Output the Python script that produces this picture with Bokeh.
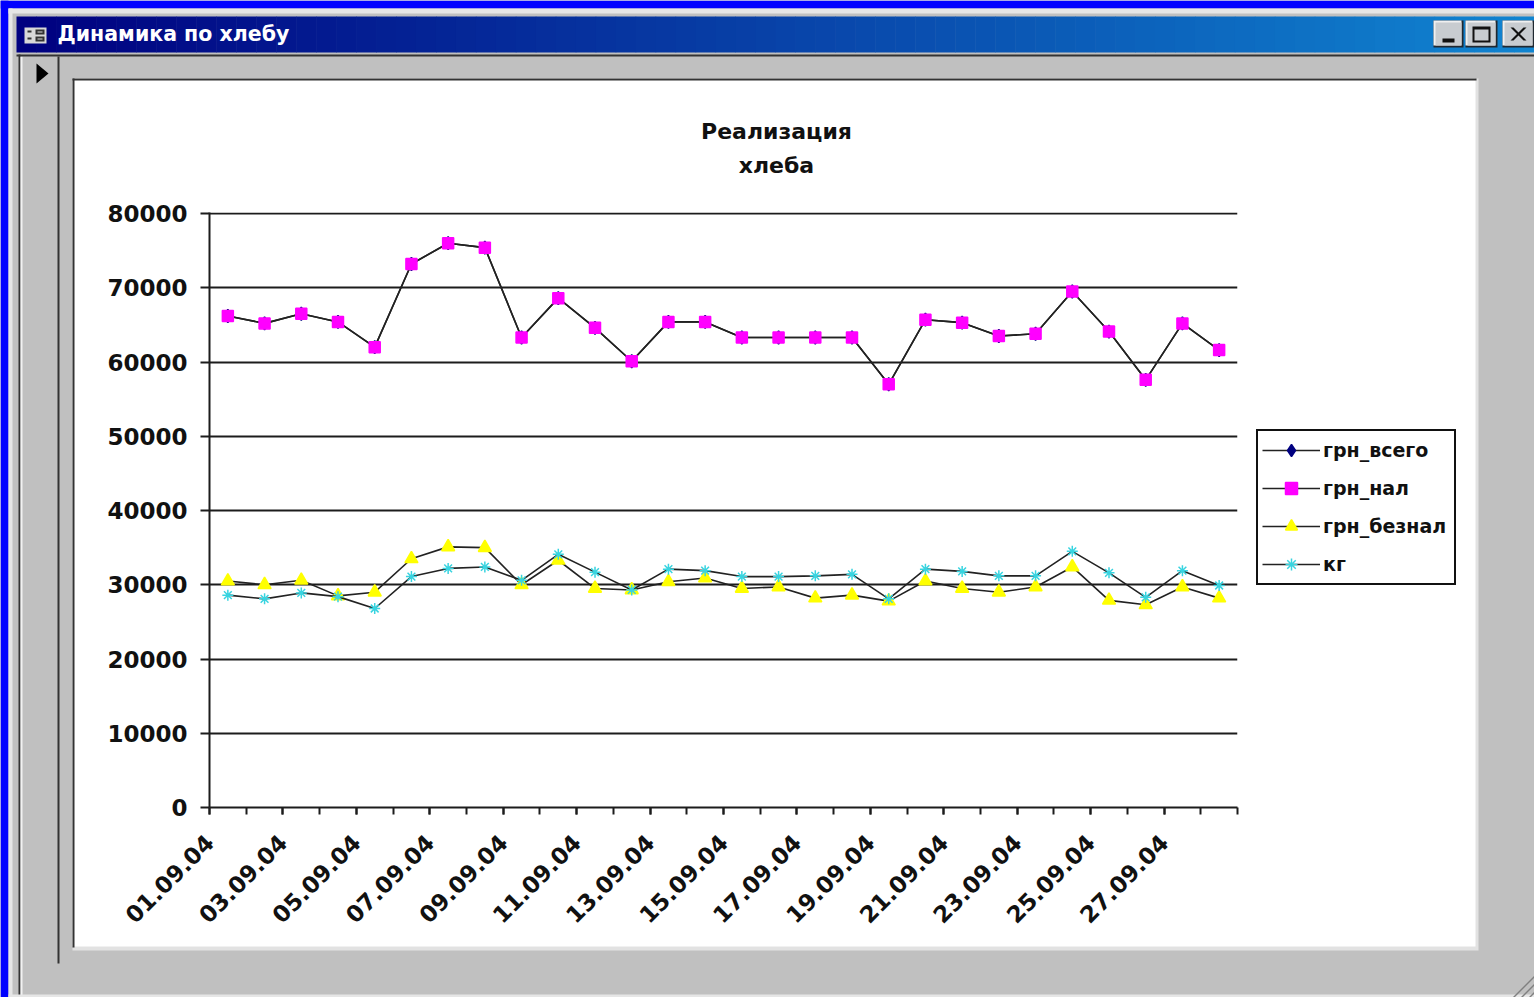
from bokeh.plotting import figure
from bokeh.models import (BoxAnnotation, PolyAnnotation, Label, Legend, LegendItem, Range1d,
                          FixedTicker, NumeralTickFormatter)
from bokeh.embed import file_html
from bokeh.resources import INLINE
from math import pi

# ---------- data ----------
dates = ["%02d.09.04" % d for d in range(1, 29)]
grn_vsego = [66200, 65200, 66500, 65400, 62000, 73200, 76000, 75400, 63300, 68600, 64600, 60100, 65400, 65400,
             63300, 63300, 63300, 63300, 57000, 65700, 65300, 63500, 63800, 69500, 64100, 57600, 65200, 61600]
grn_nal = [66200, 65200, 66500, 65400, 62000, 73200, 76000, 75400, 63300, 68600, 64600, 60100, 65400, 65400,
           63300, 63300, 63300, 63300, 57000, 65700, 65300, 63500, 63800, 69500, 64100, 57600, 65200, 61600]
grn_beznal = [30500, 30000, 30600, 28500, 29000, 33500, 35100, 35000, 30000, 33300, 29500, 29300, 30400, 30900,
              29500, 29700, 28200, 28600, 27800, 30500, 29500, 29000, 29700, 32400, 27900, 27300, 29700, 28200]
kg = [28600, 28100, 28900, 28400, 26800, 31100, 32200, 32400, 30600, 34100, 31700, 29300, 32100, 31900,
      31100, 31100, 31200, 31400, 28100, 32100, 31800, 31200, 31200, 34500, 31600, 28300, 31900, 29900]
y_ticks = [0, 10000, 20000, 30000, 40000, 50000, 60000, 70000, 80000]
title_lines = ["Реализация", "хлеба"]
window_title = "Динамика по хлебу"
series_names = ["грн_всего", "грн_нал", "грн_безнал", "кг"]

FONT = "DejaVu Sans"
INK = "#1c1c1c"
GRAY = "#c0c0c0"

positions = [i + 0.5 for i in range(len(dates))]

# window chrome: a figure whose frame is the whole canvas
bg = figure(width=1534, height=997, output_backend="svg", toolbar_location=None,
            x_range=Range1d(0, 1534), y_range=Range1d(997, 0),
            x_axis_location=None, y_axis_location=None, min_border=0,
            background_fill_color=GRAY, border_fill_color=GRAY, outline_line_color=None,
            styles={"position": "absolute", "left": "0px", "top": "0px"})
bg.grid.visible = False

# chart: transparent figure laid over it
p = figure(width=1534, height=997, output_backend="svg", toolbar_location=None,
           frame_width=1028, frame_height=595,
           x_range=Range1d(0, len(dates)), y_range=Range1d(0, 80135),
           min_border_left=209, min_border_right=0, min_border_top=212, min_border_bottom=190,
           background_fill_color=None, border_fill_color=None, outline_line_color=None,
           styles={"position": "absolute", "left": "0px", "top": "0px"})


def box(l, t, r, b, color):
    bg.add_layout(BoxAnnotation(left=l, right=r, top=t, bottom=b,
                                left_units="canvas", right_units="canvas",
                                top_units="canvas", bottom_units="canvas",
                                fill_color=color, fill_alpha=1, line_color=None, level="underlay"))


def poly(xs, ys, color):
    bg.add_layout(PolyAnnotation(xs=xs, ys=ys, xs_units="canvas", ys_units="canvas",
                                 fill_color=color, fill_alpha=1, line_color=None, level="underlay"))


box(0, 0, 1534, 8, "#0000ff")
box(0, 0, 8, 997, "#0000ff")
box(8, 8, 1534, 13, "#e6e6e6")
box(8, 8, 12, 997, "#e6e6e6")
box(18, 54, 20, 997, "#333333")
box(20, 56, 22, 997, "#f2f2f2")
box(8, 994, 1534, 997, "#e6e6e6")

# title bar gradient
steps = 76
x0, x1 = 16, 1534
c0, c1 = (0, 0, 128), (16, 132, 208)
for i in range(steps):
    t = i / (steps - 1)
    col = tuple(round(a + (b - a) * t) for a, b in zip(c0, c1))
    box(x0 + (x1 - x0) * i / steps, 16, x0 + (x1 - x0) * (i + 1) / steps + 0.5, 52, "#%02x%02x%02x" % col)
box(16, 54, 1534, 56, "#333333")

# window icon
box(24, 27, 46, 43, "#d8d8d8")
box(27, 30, 31, 32, "#333333")
box(35, 29, 44, 34, "#333333")
box(37, 31, 42, 32, "#d8d8d8")
box(27, 37, 31, 39, "#333333")
box(35, 36, 44, 41, "#333333")
box(37, 38, 42, 39, "#d8d8d8")

# window buttons
for l, r in ((1433, 1463), (1465, 1497), (1502, 1534)):
    box(l, 20, r, 47, "#202830")
    box(l, 20, r - 2, 45, "#f0f0f0")
    box(l + 2, 22, r - 2, 45, "#c8ccd0")
box(1442, 38, 1454, 42, "#111111")
box(1472, 26, 1490, 42, "#111111")
box(1474, 29, 1488, 40, "#c8ccd0")
poly([1510, 1513, 1526, 1523], [27, 27, 40, 40], "#111111")
poly([1523, 1526, 1513, 1510], [27, 27, 40, 40], "#111111")

# record selector pane
box(57, 56, 59, 963, "#333333")
poly([36, 48, 36], [63, 73, 83], "#000000")

# size grip
for k in (0, 8, 16):
    poly([1512 + k, 1534, 1534, 1514 + k], [997, 975 + k, 977 + k, 997], "#808080")

# chart sheet
box(72, 78, 1478, 950, "#e2e2e2")
box(72, 78, 1475, 946, "#ffffff")
box(72, 78, 1476, 80, "#333333")
box(72, 78, 74, 947, "#333333")

# ---------- texts on the chrome ----------
title_y = (131, 165)
for line, y in zip(title_lines, title_y):
    bg.add_layout(Label(x=776, y=y, x_units="canvas", y_units="canvas", text=line, text_align="center",
                        text_baseline="alphabetic", text_font=FONT, text_font_style="bold",
                        text_font_size="22px", text_color="#111111"))
bg.add_layout(Label(x=57, y=33, x_units="canvas", y_units="canvas", text=window_title,
                    text_baseline="alphabetic", text_font=FONT, text_font_style="bold",
                    text_font_size="20.5px", text_color="#ffffff"))

# ---------- chart ----------
xa = p.xaxis[0]
xa.ticker = FixedTicker(ticks=list(range(0, len(dates), 2)), minor_ticks=list(range(len(dates) + 1)))
xa.major_label_overrides = {i: dates[i] for i in range(0, len(dates), 2)}
xa.major_label_orientation = pi / 4
xa.major_label_text_font = FONT
xa.major_label_text_font_style = "bold"
xa.major_label_text_font_size = "23px"
xa.major_label_text_color = "#111111"
xa.major_label_standoff = 24
xa.axis_line_color = INK
xa.axis_line_width = 2
xa.major_tick_line_color = INK
xa.minor_tick_line_color = INK
xa.major_tick_line_width = 2
xa.minor_tick_line_width = 2
xa.major_tick_out = 7
xa.major_tick_in = 0
xa.minor_tick_out = 7
xa.minor_tick_in = 0

ya = p.yaxis[0]
ya.ticker = FixedTicker(ticks=y_ticks)
ya.formatter = NumeralTickFormatter(format="0")
ya.major_label_text_font = FONT
ya.major_label_text_font_style = "bold"
ya.major_label_text_font_size = "23px"
ya.major_label_text_color = "#111111"
ya.major_label_standoff = 13
ya.axis_line_color = INK
ya.axis_line_width = 2
ya.major_tick_line_color = INK
ya.major_tick_line_width = 2
ya.major_tick_out = 9
ya.major_tick_in = 0
ya.minor_tick_line_color = None

p.xgrid.visible = False
p.ygrid.ticker = FixedTicker(ticks=y_ticks)
p.ygrid.grid_line_color = INK
p.ygrid.grid_line_width = 2
p.ygrid.level = "underlay"

styles = [
    (grn_vsego, "diamond", "#000080", 13),
    (grn_nal, "square", "#ff00ff", 11),
    (grn_beznal, "triangle", "#ffff00", 13),
    (kg, "asterisk", "#38d4e0", 11),
]
items = []
for name, vals, (_, marker, color, size) in zip(series_names, (grn_vsego, grn_nal, grn_beznal, kg), styles):
    ln = p.line(positions, vals, line_color="#222222", line_width=1.6)
    mk = p.scatter(positions, vals, marker=marker, size=size, fill_color=color, line_color=color, line_width=1.5)
    items.append(LegendItem(label=name, renderers=[ln, mk]))

legend = Legend(items=items, location=(19, 222), orientation="vertical",
                border_line_color="#111111", border_line_alpha=1, border_line_width=2,
                background_fill_color="#ffffff", background_fill_alpha=1,
                padding=4, margin=0, spacing=8,
                glyph_width=58, glyph_height=30, label_height=30, label_width=127, label_standoff=3,
                label_text_font=FONT, label_text_font_style="bold", label_text_font_size="19px",
                label_text_color="#111111")
p.add_layout(legend, "right")

open("out.html", "w").write(file_html([bg, p], INLINE))
